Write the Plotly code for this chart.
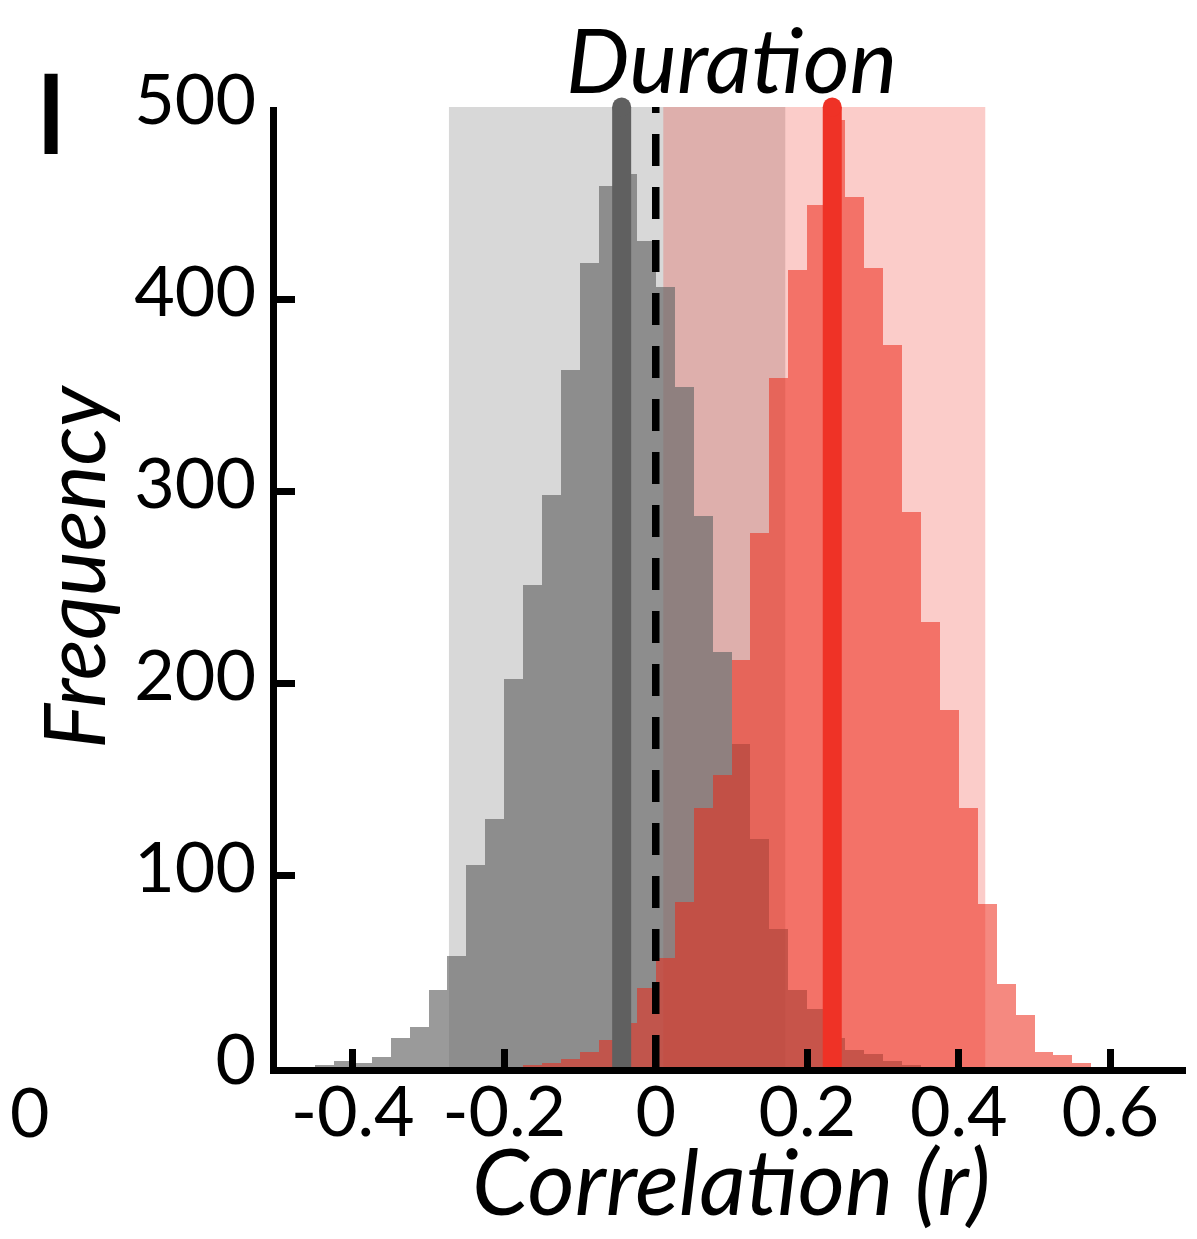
import plotly.graph_objects as go

# ---------------- data ----------------
BIN_WIDTH = 0.025
gray_first_edge = -0.45
gray_counts = [1, 3, 2, 5, 15, 21, 40, 58, 105, 129, 202, 251, 298, 363, 419, 459,
               465, 430, 406, 354, 287, 216, 168, 119, 72, 40, 30, 15, 9, 7, 3, 1]
red_first_edge = -0.175
red_counts = [1, 2, 4, 8, 14, 23, 41, 57, 86, 135, 152, 212, 278, 359, 415, 449,
              493, 453, 416, 376, 289, 232, 186, 135, 85, 43, 27, 8, 6, 2]

gray_ci = [-0.273, 0.171]
red_ci = [0.010, 0.435]
gray_mean = -0.045
red_mean = 0.233
null_line = 0.0

x_tick_vals = [-0.4, -0.2, 0, 0.2, 0.4, 0.6]
x_tick_text = ["-0.4", "-0.2", "0", "0.2", "0.4", "0.6"]
y_tick_vals = [0, 100, 200, 300, 400, 500]
y_tick_text = ["0", "100", "200", "300", "400", "500"]

title_text = "Duration"
x_title = "Correlation (r)"
y_title = "Frequency"
panel_label = "I"

# ---------------- styling ----------------
OFF = 8                      # page offset of the figure inside the window
W, H = 1197 - OFF, 1239 - OFF
ML, MT = 277 - OFF, 107 - OFF
PW, PH = 909, 960
MR = W - ML - PW
MB = H - MT - PH
FONT = "Lato"

def px_x(p):
    """window pixel x -> paper coordinate"""
    return (p - OFF - ML) / PW

def px_y(p):
    """window pixel y -> paper coordinate"""
    return (MT + PH - (p - OFF)) / PH

gray_centers = [gray_first_edge + BIN_WIDTH * (i + 0.5) for i in range(len(gray_counts))]
red_centers = [red_first_edge + BIN_WIDTH * (i + 0.5) for i in range(len(red_counts))]

fig = go.Figure()

fig.add_trace(go.Bar(x=gray_centers, y=gray_counts, width=BIN_WIDTH,
                     marker=dict(color="rgba(105,105,105,0.67)", line=dict(width=0)),
                     showlegend=False, hoverinfo="skip"))
fig.add_trace(go.Bar(x=red_centers, y=red_counts, width=BIN_WIDTH,
                     marker=dict(color="rgba(237,40,24,0.55)", line=dict(width=0)),
                     showlegend=False, hoverinfo="skip"))

# thick mean lines with rounded top
for xm, col in [(gray_mean, "#606060"), (red_mean, "#ef3226")]:
    fig.add_trace(go.Scatter(x=[xm, xm], y=[0, 500], mode="lines",
                             line=dict(color=col, width=19), showlegend=False,
                             hoverinfo="skip"))
    fig.add_trace(go.Scatter(x=[xm], y=[500], mode="markers",
                             marker=dict(color=col, size=19, line=dict(width=0)),
                             cliponaxis=False, showlegend=False, hoverinfo="skip"))

shapes = [
    dict(type="rect", xref="x", yref="y", x0=gray_ci[0], x1=gray_ci[1], y0=0, y1=500,
         fillcolor="#d8d8d8", line=dict(width=0), layer="below"),
    dict(type="rect", xref="x", yref="y", x0=red_ci[0], x1=red_ci[1], y0=0, y1=500,
         fillcolor="rgba(239,50,38,0.25)", line=dict(width=0), layer="below"),
    dict(type="line", xref="x", yref="y", x0=null_line, x1=null_line, y0=0, y1=500,
         line=dict(color="black", width=7.5, dash="32px,21px"), layer="above"),
]

annotations = [
    dict(text=title_text, xref="paper", yref="paper", x=px_x(731), y=px_y(58),
         xanchor="center", yanchor="middle", showarrow=False,
         font=dict(family=FONT, size=90, color="black", style="italic")),
    dict(text=x_title, xref="paper", yref="paper", x=px_x(731), y=px_y(1179),
         xanchor="center", yanchor="middle", showarrow=False,
         font=dict(family=FONT, size=91, color="black", style="italic")),
    dict(text=y_title, xref="paper", yref="paper", x=px_x(72), y=px_y(567),
         xanchor="center", yanchor="middle", showarrow=False, textangle=-90,
         font=dict(family=FONT, size=85, color="black", style="italic")),
    dict(text=panel_label, xref="paper", yref="paper", x=px_x(50.5), y=px_y(110),
         xanchor="center", yanchor="middle", showarrow=False,
         font=dict(family="Open Sans", size=112, color="black", weight=600)),
    dict(text="0", xref="paper", yref="paper", x=px_x(OFF), y=px_y(1110),
         xanchor="left", yanchor="middle", showarrow=False,
         font=dict(family=FONT, size=68, color="black")),
]

fig.update_layout(
    width=W, height=H,
    margin=dict(l=ML, r=MR, t=MT, b=MB, pad=0),
    paper_bgcolor="white", plot_bgcolor="white",
    barmode="overlay", bargap=0,
    shapes=shapes, annotations=annotations,
    showlegend=False,
)
fig.update_xaxes(range=[-0.5, 0.7], showgrid=False, zeroline=False,
                 showline=True, linecolor="black", linewidth=7,
                 ticks="inside", ticklen=18, tickwidth=7, tickcolor="black",
                 tickvals=x_tick_vals, ticktext=x_tick_text,
                 ticklabelstandoff=-22,
                 tickfont=dict(family=FONT, size=70, color="black"))
fig.update_yaxes(range=[0, 500], showgrid=False, zeroline=False,
                 showline=True, linecolor="black", linewidth=7,
                 ticks="inside", ticklen=18, tickwidth=7, tickcolor="black",
                 tickvals=y_tick_vals, ticktext=y_tick_text,
                 ticklabelshift=-8,
                 tickfont=dict(family=FONT, size=70, color="black"))

fig.write_html("out.html")
